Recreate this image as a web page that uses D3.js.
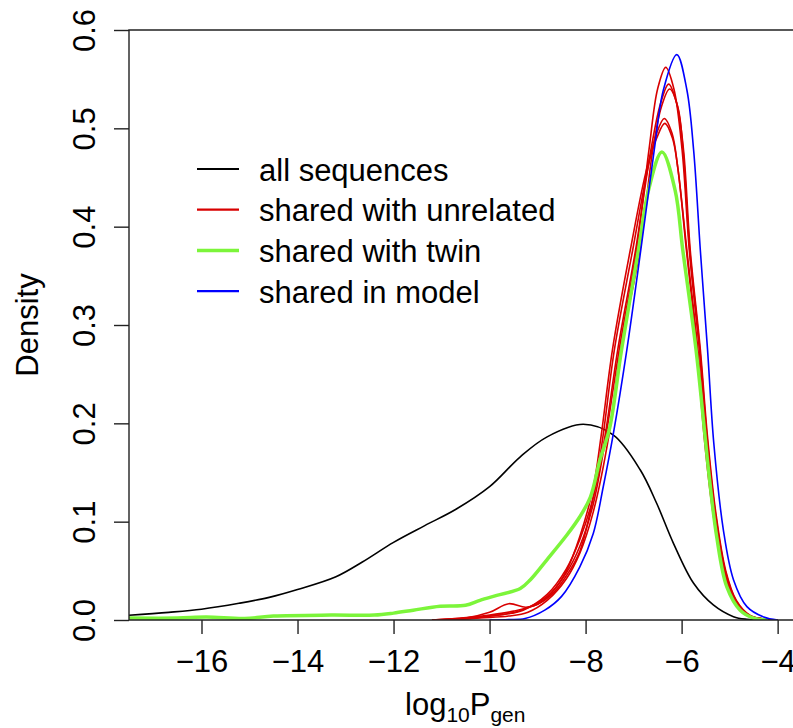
<!DOCTYPE html>
<html>
<head>
<meta charset="utf-8">
<script src="https://cdn.jsdelivr.net/npm/d3@7"></script>
<style>
  body { margin: 0; background: #fff; }
  svg text { font-family: "Liberation Sans", Arial, Helvetica, sans-serif; fill: #000; }
</style>
</head>
<body>
<div id="chart"></div>
<script>
// density curves, points are [log10 Pgen, density]
var allSequences = [
  [-17.51, 0.0048], [-16.68, 0.0078], [-16, 0.011], [-15.22, 0.017], [-14.59, 0.023],
  [-14, 0.031], [-13.2, 0.044], [-12.65, 0.059], [-12, 0.079], [-11.35, 0.096],
  [-10.7, 0.1126], [-10, 0.1356], [-9.36, 0.166], [-8.81, 0.186], [-8.05, 0.199],
  [-7.42, 0.188], [-6.86, 0.1525], [-6.52, 0.1187], [-6.17, 0.078], [-5.75, 0.0373],
  [-5.34, 0.0153], [-4.92, 0.0034], [-4.64, 0.0007], [-4.3, 0]
];

var sharedUnrelated = [
  [[-11.2, 0], [-10.5, 0.002], [-10, 0.004], [-9.4, 0.009], [-8.8, 0.024], [-8.4, 0.048],
   [-8.12, 0.075], [-7.84, 0.118], [-7.58, 0.186], [-7.3, 0.275], [-6.94, 0.376], [-6.68, 0.478],
   [-6.5, 0.54], [-6.33, 0.562], [-6.16, 0.54], [-5.99, 0.478], [-5.84, 0.376], [-5.63, 0.275],
   [-5.48, 0.186], [-5.31, 0.11], [-5.1, 0.05], [-4.88, 0.02], [-4.6, 0.005], [-4.3, 0.001], [-4, 0]],
  [[-11, 0], [-10.3, 0.002], [-9.8, 0.005], [-9.3, 0.01], [-8.8, 0.026], [-8.4, 0.052],
   [-8.12, 0.082], [-7.84, 0.125], [-7.6, 0.186], [-7.33, 0.275], [-6.96, 0.376], [-6.64, 0.478],
   [-6.44, 0.525], [-6.27, 0.545], [-6.1, 0.525], [-5.96, 0.478], [-5.82, 0.376], [-5.61, 0.275],
   [-5.46, 0.186], [-5.29, 0.11], [-5.08, 0.05], [-4.86, 0.02], [-4.58, 0.005], [-4.3, 0.001], [-4, 0]],
  [[-10.8, 0], [-10.2, 0.002], [-9.6, 0.004], [-9.2, 0.008], [-8.8, 0.02], [-8.4, 0.042],
   [-8.12, 0.068], [-7.84, 0.11], [-7.52, 0.186], [-7.27, 0.275], [-6.87, 0.376], [-6.6, 0.478],
   [-6.42, 0.522], [-6.25, 0.54], [-6.08, 0.522], [-5.97, 0.478], [-5.83, 0.376], [-5.62, 0.275],
   [-5.47, 0.186], [-5.3, 0.11], [-5.09, 0.05], [-4.87, 0.02], [-4.6, 0.005], [-4.3, 0.001], [-4, 0]],
  [[-11.2, 0], [-10.6, 0.002], [-10, 0.005], [-9.5, 0.009], [-9, 0.016], [-8.7, 0.026],
   [-8.4, 0.045], [-8.12, 0.07], [-7.84, 0.125], [-7.64, 0.186], [-7.4, 0.275], [-7.02, 0.376],
   [-6.7, 0.46], [-6.52, 0.495], [-6.36, 0.51], [-6.2, 0.495], [-6.08, 0.46], [-5.89, 0.376],
   [-5.66, 0.275], [-5.51, 0.186], [-5.33, 0.11], [-5.12, 0.05], [-4.9, 0.02], [-4.62, 0.005], [-4.3, 0.001], [-4, 0]],
  [[-11.2, 0], [-10.5, 0.002], [-10, 0.0078], [-9.6, 0.0166], [-9.25, 0.013], [-9, 0.016],
   [-8.7, 0.028], [-8.4, 0.05], [-8.12, 0.085], [-7.84, 0.135], [-7.68, 0.186], [-7.44, 0.275],
   [-7.07, 0.376], [-6.72, 0.46], [-6.52, 0.49], [-6.35, 0.505], [-6.19, 0.49], [-6.08, 0.46],
   [-5.9, 0.376], [-5.68, 0.275], [-5.53, 0.186], [-5.35, 0.11], [-5.13, 0.05], [-4.9, 0.02],
   [-4.62, 0.005], [-4.3, 0.001], [-4, 0]]
];

var sharedTwin = [
  [-17.51, 0.002], [-16.5, 0.002], [-15.9, 0.003], [-15.1, 0.0015], [-14.5, 0.004],
  [-13.3, 0.005], [-12.4, 0.005], [-12, 0.007], [-11.59, 0.01], [-11.03, 0.014],
  [-10.5, 0.015], [-10.2, 0.02], [-9.85, 0.025], [-9.36, 0.032], [-9.15, 0.041],
  [-8.81, 0.061], [-8.39, 0.0864], [-8.12, 0.105], [-7.9, 0.125], [-7.7, 0.163],
  [-7.5, 0.195], [-7.25, 0.275], [-6.9, 0.376], [-6.69, 0.437], [-6.41, 0.476],
  [-6.135, 0.437], [-5.975, 0.376], [-5.7, 0.275], [-5.51, 0.186], [-5.44, 0.1525],
  [-5.27, 0.085], [-5.06, 0.034], [-4.78, 0.01], [-4.5, 0.002], [-4.2, 0]
];

var sharedModel = [
  [-10, 0], [-9.6, 0.0005], [-9.26, 0.0015], [-8.85, 0.01], [-8.5, 0.024], [-8.12, 0.054],
  [-7.84, 0.088], [-7.63, 0.136], [-7.42, 0.19], [-7.14, 0.275], [-6.84, 0.38], [-6.57, 0.478],
  [-6.38, 0.539], [-6.1, 0.575], [-5.89, 0.539], [-5.75, 0.478], [-5.61, 0.376], [-5.46, 0.275],
  [-5.33, 0.18], [-5.13, 0.0915], [-4.92, 0.041], [-4.64, 0.0136], [-4.29, 0.003], [-4, 0]
];

var xTicks = [-16, -14, -12, -10, -8, -6, -4];
var yTicks = [0, 0.1, 0.2, 0.3, 0.4, 0.5, 0.6];
var legendLabels = ["all sequences", "shared with unrelated", "shared with twin", "shared in model"];
var legendColors = ["#000000", "#d80000", "#7cf53a", "#0000ff"];
var legendWidths = [1.6, 1.6, 3.5, 1.6];

var W = 793, H = 728;
var plot = { left: 129, top: 30, bottom: 620, right: 793 };

var svg = d3.select("#chart")
  .append("svg")
  .attr("width", W)
  .attr("height", H);

var x = d3.scaleLinear().domain([-17.51, -3.68]).range([plot.left, plot.right]);
var y = d3.scaleLinear().domain([0, 0.6]).range([plot.bottom, plot.top]);

svg.append("defs").append("clipPath")
  .attr("id", "plotclip")
  .append("rect")
  .attr("x", plot.left)
  .attr("y", plot.top - 5)
  .attr("width", plot.right - plot.left)
  .attr("height", plot.bottom - plot.top + 5);

// smooth curve through the read points, clamped so tails never dip below zero
var line = d3.line()
  .x(d => x(d[0]))
  .y(d => Math.min(y(d[1]), plot.bottom))
  .curve(d3.curveCatmullRom.alpha(0.5));

var curves = svg.append("g").attr("clip-path", "url(#plotclip)");

// black first, then reds, green, blue on top
curves.append("path")
  .attr("d", line(allSequences))
  .attr("fill", "none")
  .attr("stroke", legendColors[0])
  .attr("stroke-width", legendWidths[0]);

curves.selectAll(".red")
  .data(sharedUnrelated)
  .enter()
  .append("path")
  .attr("class", "red")
  .attr("d", d => line(d))
  .attr("fill", "none")
  .attr("stroke", legendColors[1])
  .attr("stroke-width", legendWidths[1]);

curves.append("path")
  .attr("d", line(sharedTwin))
  .attr("fill", "none")
  .attr("stroke", legendColors[2])
  .attr("stroke-width", legendWidths[2])
  .attr("stroke-linejoin", "round");

curves.append("path")
  .attr("d", line(sharedModel))
  .attr("fill", "none")
  .attr("stroke", legendColors[3])
  .attr("stroke-width", legendWidths[3]);

// box (right side is off the picture)
svg.append("path")
  .attr("d", "M" + (plot.right + 5) + "," + plot.top + "H" + plot.left + "V" + plot.bottom + "H" + (plot.right + 5))
  .attr("fill", "none")
  .attr("stroke", "#222")
  .attr("stroke-width", 1.4);

// axes
var xAxis = d3.axisBottom(x).tickValues(xTicks).tickSize(14).tickFormat(d3.format("d"));
var gx = svg.append("g")
  .attr("transform", "translate(0," + plot.bottom + ")")
  .call(xAxis);
gx.select(".domain").remove();
gx.selectAll(".tick line").attr("stroke", "#222").attr("stroke-width", 1.4);
gx.selectAll(".tick text")
  .attr("y", 52)
  .attr("dy", 0)
  .style("font-size", "31px")
  .style("font-family", "'Liberation Sans', Arial, sans-serif");

var yAxis = d3.axisLeft(y).tickValues(yTicks).tickSize(15).tickFormat(d3.format(".1f"));
var gy = svg.append("g")
  .attr("transform", "translate(" + plot.left + ",0)")
  .call(yAxis);
gy.select(".domain").remove();
gy.selectAll(".tick line").attr("stroke", "#222").attr("stroke-width", 1.4);
gy.selectAll(".tick text")
  .attr("x", 0)
  .attr("y", 0)
  .attr("dy", 0)
  .attr("text-anchor", "middle")
  .attr("transform", "translate(-34,0) rotate(-90)")
  .style("font-size", "31px")
  .style("font-family", "'Liberation Sans', Arial, sans-serif");

// axis titles
svg.append("text")
  .attr("transform", "translate(38," + (plot.top + plot.bottom) / 2 + ") rotate(-90)")
  .attr("text-anchor", "middle")
  .style("font-size", "31px")
  .text("Density");

var xt = svg.append("text")
  .attr("x", 405)
  .attr("y", 715)
  .style("font-size", "31px");
xt.append("tspan").text("log");
xt.append("tspan").attr("dy", 7).style("font-size", "21px").text("10");
xt.append("tspan").attr("dy", -7).text("P");
xt.append("tspan").attr("dy", 7).style("font-size", "21px").text("gen");

// legend
var legend = svg.selectAll(".legend")
  .data(legendLabels)
  .enter()
  .append("g")
  .attr("class", "legend")
  .attr("transform", (d, i) => "translate(0," + (169 + i * 40.7) + ")");

legend.append("line")
  .attr("x1", 197)
  .attr("x2", 239)
  .attr("stroke", (d, i) => legendColors[i])
  .attr("stroke-width", (d, i) => Math.max(legendWidths[i], 2.2));

legend.append("text")
  .attr("x", 259)
  .attr("y", 11.5)
  .style("font-size", "31px")
  .text(d => d);
</script>
</body>
</html>
